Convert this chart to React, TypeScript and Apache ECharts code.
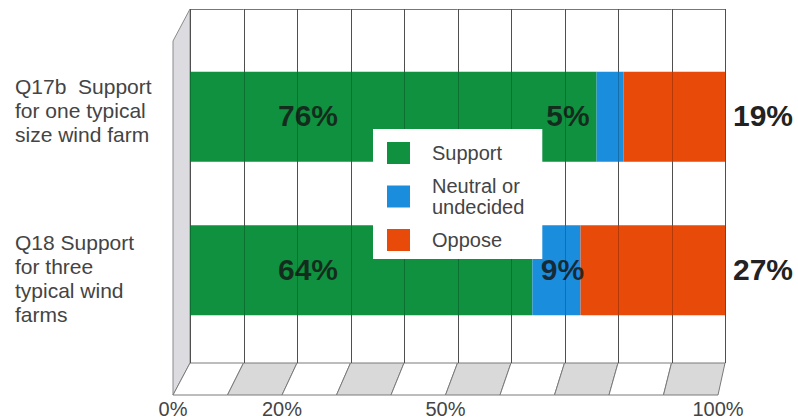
import React, { useEffect, useRef } from "react";
import * as echarts from "echarts";

// Survey answers per question (percent of respondents)
const categories = [
  "Q17b  Support\nfor one typical\nsize wind farm",
  "Q18 Support\nfor three\ntypical wind\nfarms",
];
const seriesNames = ["Support", "Neutral or\nundecided", "Oppose"];
const supportValues = [76, 64];
const neutralValues = [5, 9];
const opposeValues = [19, 27];

// Percentage scale of the wall/floor and the labels printed under the floor
const scaleMin = 0;
const scaleMax = 100;
const scaleStep = 10;
const tickLabelValues = [0, 20, 50, 100];

const FONT = "'Liberation Sans', Arial, Helvetica, sans-serif";
const GREEN = "#0f913f";
const BLUE = "#1b8ddd";
const ORANGE = "#e84a0a";

// Pseudo-3D frame geometry: the floor/left wall are projected forward-left
const DEPTH_DX = -17;
const DEPTH_DY = 32;
const FRONT_SCALE = 545 / 535;

const neutralLabelShift = [
  [-42, -1],
  [6, -1],
];

const wallTicks: number[][] = [];
for (let v = scaleMin; v <= scaleMax; v += scaleStep) wallTicks.push([v]);

function buildOption(): echarts.EChartsOption {
  const catLabel = (value: string, index: number) => {
    const lines = value.split("\n").map((l) => `{t|${l}}`);
    return index === 0 ? lines.join("\n") + "\n{s1| }" : "{s2| }\n" + lines.join("\n");
  };

  const crisp = (x: number) => Math.round(x) + 0.5;

  return {
    animation: false,
    backgroundColor: "#ffffff",
    grid: [
      { left: 190, right: 73, top: 9, bottom: 57 },
      { left: 190, right: 73, top: 40, bottom: 73 },
    ],
    xAxis: [
      { type: "value", gridIndex: 0, min: scaleMin, max: scaleMax, interval: scaleStep, show: false },
      { type: "value", gridIndex: 1, min: scaleMin, max: scaleMax, show: false },
    ],
    yAxis: [
      { type: "value", gridIndex: 0, min: 0, max: 1, show: false },
      {
        type: "category",
        gridIndex: 1,
        inverse: true,
        data: categories,
        axisLine: { show: false },
        axisTick: { show: false },
        splitLine: { show: false },
        axisLabel: {
          align: "left",
          margin: 175,
          formatter: catLabel,
          rich: {
            t: { fontSize: 21, lineHeight: 24, color: "#444", fontFamily: FONT },
            s1: { fontSize: 1, lineHeight: 12 },
            s2: { fontSize: 1, lineHeight: 16 },
          },
        },
      },
    ],
    legend: {
      orient: "vertical",
      left: 373,
      top: 129,
      padding: [12, 18, 7, 14],
      itemWidth: 23,
      itemHeight: 22,
      itemGap: 9,
      icon: "rect",
      backgroundColor: "#ffffff",
      selectedMode: false,
      data: seriesNames,
      textStyle: {
        fontSize: 20,
        lineHeight: 21,
        color: "#444",
        fontFamily: FONT,
        padding: [3, 0, 0, 17],
      },
    },
    series: [
      {
        // back wall, left wall and floor
        type: "custom",
        xAxisIndex: 0,
        yAxisIndex: 0,
        z: 1,
        silent: true,
        data: wallTicks,
        encode: { x: 0 },
        renderItem: (params: any, api: any) => {
          const cs = params.coordSys;
          const v = api.value(0);
          const bx = api.coord([v, 0])[0];
          const top = cs.y;
          const bottom = cs.y + cs.height;
          const front = (x: number) => cs.x + DEPTH_DX + (x - cs.x) * FRONT_SCALE;
          const children: any[] = [];
          if (v === scaleMin) {
            children.push({
              type: "polygon",
              shape: {
                points: [
                  [bx, top],
                  [bx, bottom],
                  [front(bx), bottom + DEPTH_DY],
                  [front(bx), top + DEPTH_DY],
                ],
              },
              style: { fill: "#dcdce0", stroke: "#8a8a8a", lineWidth: 1 },
            });
          }
          if (v < scaleMax) {
            const nx = api.coord([v + scaleStep, 0])[0];
            children.push({
              type: "polygon",
              shape: {
                points: [
                  [bx, bottom],
                  [nx, bottom],
                  [front(nx), bottom + DEPTH_DY],
                  [front(bx), bottom + DEPTH_DY],
                ],
              },
              style: {
                fill: params.dataIndex % 2 === 1 ? "#d9d9d9" : "#ffffff",
                stroke: "#7a7a7a",
                lineWidth: 1,
              },
            });
            children.push({
              type: "line",
              shape: { x1: bx, y1: crisp(top), x2: nx, y2: crisp(top) },
              style: { stroke: "#777", lineWidth: 1 },
            });
          }
          children.push({
            type: "line",
            shape: { x1: crisp(bx), y1: top, x2: crisp(bx), y2: bottom },
            style: { stroke: "#666", lineWidth: 1 },
          });
          return { type: "group", children };
        },
      },
      {
        name: seriesNames[0],
        type: "bar",
        stack: "answers",
        xAxisIndex: 1,
        yAxisIndex: 1,
        barWidth: 90,
        z: 2,
        itemStyle: { color: GREEN },
        data: supportValues,
        label: {
          show: true,
          position: "insideLeft",
          distance: 88,
          formatter: "{c}%",
          fontSize: 30,
          fontWeight: "bold",
          fontFamily: FONT,
          color: "rgba(22,26,24,0.85)",
          offset: [0, -1],
        },
      },
      {
        name: seriesNames[1],
        type: "bar",
        stack: "answers",
        xAxisIndex: 1,
        yAxisIndex: 1,
        barWidth: 90,
        z: 2,
        itemStyle: { color: BLUE },
        data: neutralValues.map((v, i) => ({
          value: v,
          label: { offset: neutralLabelShift[i] },
        })),
        label: {
          show: true,
          position: "inside",
          formatter: "{c}%",
          fontSize: 30,
          fontWeight: "bold",
          fontFamily: FONT,
          color: "rgba(22,26,24,0.85)",
        },
      },
      {
        name: seriesNames[2],
        type: "bar",
        stack: "answers",
        xAxisIndex: 1,
        yAxisIndex: 1,
        barWidth: 90,
        z: 2,
        itemStyle: { color: ORANGE },
        data: opposeValues,
        label: {
          show: true,
          position: "right",
          distance: 8,
          formatter: "{c}%",
          fontSize: 30,
          fontWeight: "bold",
          fontFamily: FONT,
          color: "#222",
          offset: [0, -1],
        },
      },
      {
        // wall gridlines showing through the bars
        type: "custom",
        xAxisIndex: 0,
        yAxisIndex: 0,
        z: 3,
        silent: true,
        data: wallTicks,
        encode: { x: 0 },
        renderItem: (params: any, api: any) => {
          const cs = params.coordSys;
          const bx = Math.round(api.coord([api.value(0), 0])[0]) + 0.5;
          return {
            type: "line",
            shape: { x1: bx, y1: cs.y, x2: bx, y2: cs.y + cs.height },
            style: { stroke: "rgba(0,0,0,0.22)", lineWidth: 1 },
          };
        },
      },
      {
        // percentage labels along the front edge of the floor
        type: "custom",
        xAxisIndex: 0,
        yAxisIndex: 0,
        z: 3,
        silent: true,
        data: tickLabelValues.map((v) => [v]),
        encode: { x: 0 },
        renderItem: (params: any, api: any) => {
          const cs = params.coordSys;
          const v = api.value(0);
          const bx = api.coord([v, 0])[0];
          const fx = cs.x + DEPTH_DX + (bx - cs.x) * FRONT_SCALE;
          return {
            type: "text",
            x: fx,
            y: cs.y + cs.height + DEPTH_DY + 14,
            style: {
              text: `${v}%`,
              fill: "#444",
              fontSize: 20,
              fontFamily: FONT,
              align: "center",
              verticalAlign: "middle",
            },
          };
        },
      },
    ],
  } as echarts.EChartsOption;
}

export default function App() {
  const ref = useRef<HTMLDivElement>(null);
  useEffect(() => {
    document.body.style.margin = "0";
    if (!ref.current) return;
    const chart = echarts.init(ref.current, undefined, { renderer: "svg" });
    chart.setOption(buildOption());
    return () => chart.dispose();
  }, []);
  return <div ref={ref} style={{ width: 798, height: 420 }} />;
}
